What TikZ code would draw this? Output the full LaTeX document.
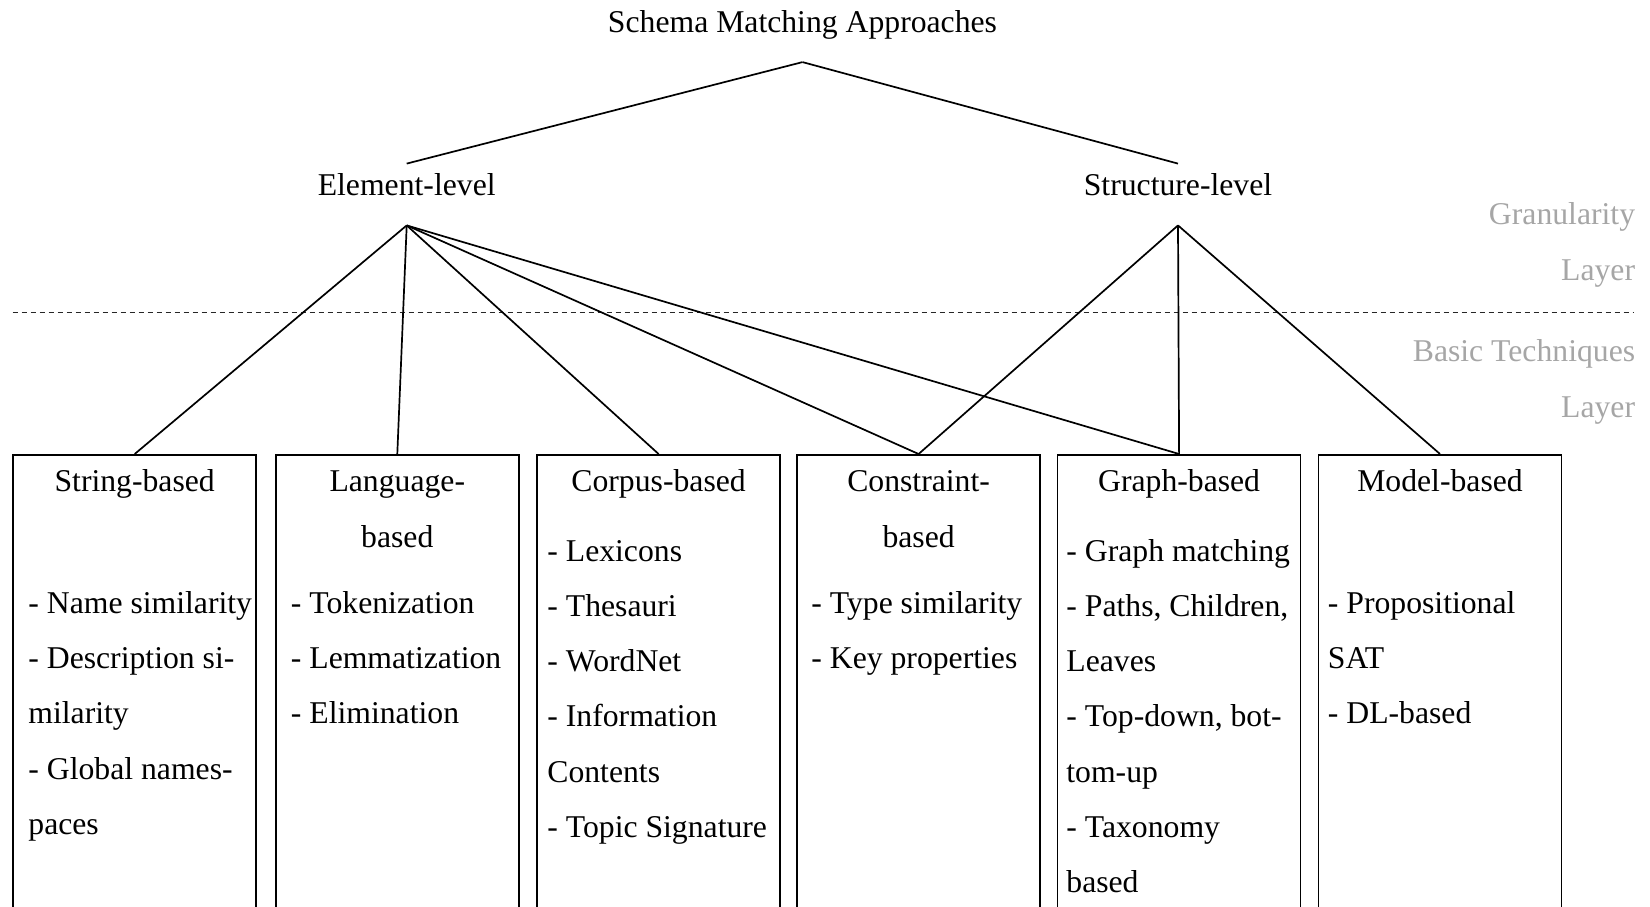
\documentclass[tikz,border=0pt]{standalone}
\usepackage{fontspec}
\setmainfont{Liberation Serif}
\definecolor{layergray}{RGB}{166,166,166}

% one node per text line, baselines 55.3 units apart
\newcommand\itemlines[4]{%
  \foreach \txt [count=\k from 0] in {#4} {%
    \node[item] (#1-\k) at (#2,{#3+55.3*\k}) {\txt};
  }%
}

\begin{document}
\begin{tikzpicture}[x=0.5pt,y=-0.5pt,
  every node/.style={font=\fontsize{15.85pt}{19pt}\selectfont, inner sep=0pt},
  link/.style={line width=0.85pt, black},
  techbox/.style={draw=black, line width=0.85pt, minimum width=121.5pt,
    minimum height=240pt, anchor=north, inner sep=0pt},
  level/.style={anchor=base, text height=10.85pt, text depth=10.35pt,
    inner ysep=4.65pt, inner xsep=0pt},
  head/.style={anchor=base},
  item/.style={anchor=base west},
  layerlabel/.style={anchor=base east, text=layergray},
  divider/.style={line width=0.5pt, black!85, dash pattern=on 2.5pt off 2pt}]

\useasboundingbox (0,0) rectangle (1650,906);
\clip (0,0) rectangle (1650,906);

% layer separator
\coordinate (divL) at (12.7,312.3);
\coordinate (divR) at (1633.5,312.3);
\draw[divider] (divL) -- (divR);

% layer labels
\node[layerlabel] (gran1) at (1635.5,224) {Granularity};
\node[layerlabel] (gran2) at (1635.5,280) {Layer};
\node[layerlabel] (basic1) at (1635.5,361) {Basic Techniques};
\node[layerlabel] (basic2) at (1635.5,417.5) {Layer};

% root and granularity levels
\node[anchor=base, text depth=14.5pt] (root) at (802.5,32.7) {Schema Matching Approaches};
\node[level] (el) at (406.7,195) {Element-level};
\node[level] (sl) at (1178,195) {Structure-level};

% technique boxes (open towards the bottom edge)
\foreach \name/\cx in {b1/134.7, b2/397.3, b3/658.6, b4/918.6, b5/1179.1, b6/1440}
  \node[techbox] (\name) at (\cx,454) {};

% box headings
\node[head] (h1) at (134.7,491.7) {String-based};
\node[head] (h2a) at (397.3,491.7) {Language-};
\node[head] (h2b) at (397.3,547) {based};
\node[head] (h3) at (658.6,491.7) {Corpus-based};
\node[head] (h4a) at (918.6,491.7) {Constraint-};
\node[head] (h4b) at (918.6,547) {based};
\node[head] (h5) at (1179.1,491.7) {Graph-based};
\node[head] (h6) at (1440,491.7) {Model-based};

% box contents
\itemlines{s1}{28}{613.3}{- Name similarity, - Description si-, milarity, - Global names-, paces}
\itemlines{s2}{290.5}{613.3}{- Tokenization, - Lemmatization, - Elimination}
\itemlines{s3}{547}{561}{- Lexicons, - Thesauri, - WordNet, - Information, Contents, - Topic Signature}
\itemlines{s4}{811}{613.3}{- Type similarity, - Key properties}
\itemlines{s5}{1066}{561}{- Graph matching, {- Paths, Children,}, Leaves, {- Top-down, bot-}, tom-up, - Taxonomy, based}
\itemlines{s6}{1327.5}{613.3}{- Propositional, SAT, - DL-based}

% connectors
\draw[link] (root.south) -- (el.north);
\draw[link] (root.south) -- (sl.north);
\foreach \b in {b1,b2,b3,b4,b5}
  \draw[link] (el.south) -- (\b.north);
\foreach \b in {b4,b5,b6}
  \draw[link] (sl.south) -- (\b.north);

\end{tikzpicture}
\end{document}
